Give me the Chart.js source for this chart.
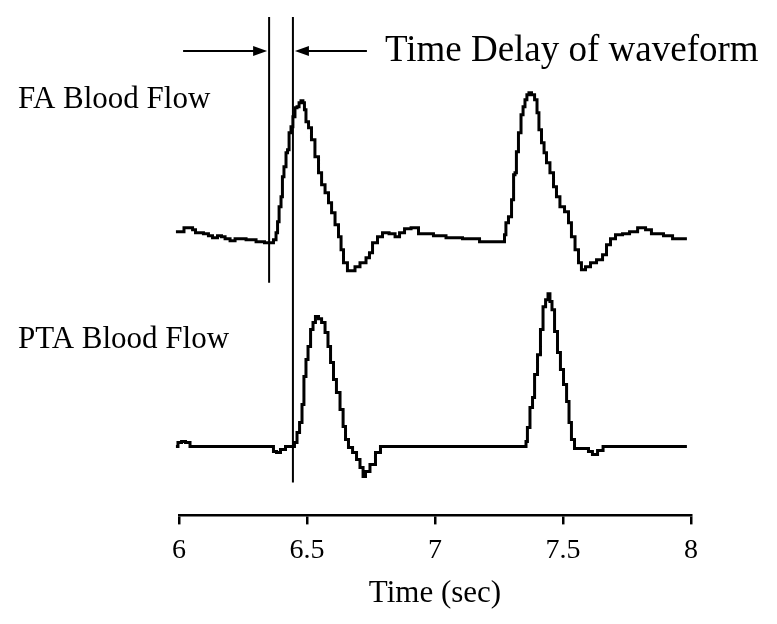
<!DOCTYPE html>
<html>
<head>
<meta charset="utf-8">
<script src="https://cdn.jsdelivr.net/npm/chart.js@4"></script>
<style>
  body { margin: 0; background: #fff; }
  canvas { display: block; }
</style>
</head>
<body>
<canvas id="c" width="777" height="624"></canvas>
<script>
// time (sec) and flow (arbitrary units, baseline = 0)
const faTime = [5.988, 6.016, 6.023, 6.051, 6.055, 6.074, 6.082, 6.109, 6.121, 6.141, 6.160, 6.172, 6.188, 6.211, 6.227, 6.297, 6.305, 6.363, 6.375, 6.383, 6.387, 6.395, 6.402, 6.406, 6.414, 6.422, 6.426, 6.434, 6.441, 6.449, 6.457, 6.465, 6.473, 6.480, 6.488, 6.492, 6.500, 6.512, 6.523, 6.539, 6.551, 6.563, 6.578, 6.590, 6.602, 6.617, 6.629, 6.637, 6.648, 6.668, 6.680, 6.695, 6.719, 6.742, 6.746, 6.766, 6.785, 6.805, 6.836, 6.852, 6.871, 6.891, 6.922, 6.949, 7.039, 7.047, 7.168, 7.180, 7.270, 7.273, 7.281, 7.293, 7.305, 7.309, 7.316, 7.320, 7.332, 7.340, 7.348, 7.355, 7.363, 7.371, 7.383, 7.395, 7.402, 7.410, 7.422, 7.430, 7.441, 7.457, 7.469, 7.480, 7.496, 7.516, 7.527, 7.539, 7.555, 7.566, 7.578, 7.598, 7.617, 7.645, 7.664, 7.676, 7.695, 7.715, 7.750, 7.770, 7.813, 7.832, 7.859, 7.926, 7.930, 7.984];
const faFlow = [0.057, 0.057, 0.086, 0.086, 0.071, 0.050, 0.050, 0.043, 0.029, 0.014, 0.029, 0.021, 0.007, -0.007, 0.007, 0.000, -0.014, -0.021, 0.000, 0.050, 0.129, 0.236, 0.307, 0.450, 0.521, 0.621, 0.643, 0.764, 0.807, 0.879, 0.943, 0.950, 0.979, 0.993, 0.979, 0.929, 0.843, 0.800, 0.714, 0.593, 0.479, 0.393, 0.336, 0.264, 0.193, 0.107, 0.021, -0.071, -0.164, -0.221, -0.221, -0.193, -0.164, -0.129, -0.093, -0.021, 0.021, 0.050, 0.043, 0.021, 0.050, 0.079, 0.086, 0.043, 0.029, 0.014, 0.007, -0.014, -0.014, 0.036, 0.121, 0.164, 0.286, 0.464, 0.479, 0.629, 0.764, 0.893, 0.950, 1.000, 1.036, 1.050, 1.036, 1.000, 0.907, 0.786, 0.693, 0.621, 0.550, 0.479, 0.379, 0.307, 0.236, 0.200, 0.121, 0.021, -0.071, -0.164, -0.214, -0.193, -0.164, -0.143, -0.107, -0.036, 0.007, 0.036, 0.043, 0.057, 0.086, 0.071, 0.043, 0.029, 0.007, 0.007];

const ptaTime = [5.988, 6.004, 6.016, 6.035, 6.051, 6.363, 6.375, 6.387, 6.406, 6.426, 6.445, 6.457, 6.465, 6.477, 6.484, 6.492, 6.500, 6.508, 6.520, 6.527, 6.539, 6.551, 6.563, 6.578, 6.586, 6.598, 6.609, 6.621, 6.637, 6.645, 6.656, 6.668, 6.688, 6.699, 6.715, 6.723, 6.734, 6.758, 6.777, 6.797, 7.352, 7.359, 7.363, 7.379, 7.383, 7.395, 7.406, 7.418, 7.426, 7.438, 7.445, 7.453, 7.461, 7.473, 7.484, 7.496, 7.508, 7.520, 7.527, 7.539, 7.551, 7.594, 7.605, 7.625, 7.645, 7.668, 7.984];
const ptaFlow = [0, 0.027, 0.033, 0.027, 0, 0, -0.033, -0.040, -0.020, 0, 0, 0.027, 0.093, 0.160, 0.280, 0.467, 0.580, 0.667, 0.780, 0.827, 0.867, 0.853, 0.827, 0.760, 0.667, 0.560, 0.447, 0.360, 0.247, 0.133, 0.047, -0.007, -0.040, -0.087, -0.140, -0.200, -0.167, -0.120, -0.040, 0, 0, 0.033, 0.127, 0.260, 0.327, 0.480, 0.613, 0.780, 0.933, 0.980, 1.020, 0.967, 0.913, 0.767, 0.627, 0.513, 0.413, 0.300, 0.160, 0.047, -0.013, -0.013, -0.033, -0.053, -0.027, 0, 0];

const xTicks = [6, 6.5, 7, 7.5, 8];

// delay markers (sec) and their extent in FA units
const delayStart = 6.352;
const delayEnd = 6.445;
const markerTop = 1.593;
const startBottom = -0.307;
const endBottom = -1.736;
const arrowLevel = 1.35;
const arrowTails = [6.016, 6.734];

const pts = (xs, ys) => xs.map((x, i) => ({ x: x, y: ys[i] }));
const serif = '"Liberation Serif", "Times New Roman", serif';

const annotations = {
  id: 'annotations',
  afterDraw(chart) {
    const ctx = chart.ctx;
    const xs = chart.scales.x;
    const ys = chart.scales.yFA;
    const y = ys.getPixelForValue(arrowLevel);
    const a = xs.getPixelForValue(delayStart);
    const b = xs.getPixelForValue(delayEnd);
    const l = xs.getPixelForValue(arrowTails[0]);
    const r = xs.getPixelForValue(arrowTails[1]);
    ctx.save();
    ctx.strokeStyle = '#000';
    ctx.fillStyle = '#000';
    ctx.lineWidth = 2;
    ctx.beginPath();
    ctx.moveTo(l, y); ctx.lineTo(a - 12, y);
    ctx.moveTo(b + 12, y); ctx.lineTo(r, y);
    ctx.stroke();
    ctx.beginPath();
    ctx.moveTo(a - 2, y); ctx.lineTo(a - 16, y - 5); ctx.lineTo(a - 16, y + 5); ctx.closePath();
    ctx.moveTo(b + 2, y); ctx.lineTo(b + 16, y - 5); ctx.lineTo(b + 16, y + 5); ctx.closePath();
    ctx.fill();

    ctx.font = '37px ' + serif;
    ctx.textBaseline = 'middle';
    ctx.fillText('Time Delay of waveform', r + 18, y);

    ctx.font = '31px ' + serif;
    ctx.textBaseline = 'alphabetic';
    ctx.fillText('FA Blood Flow', 18, 108);
    ctx.fillText('PTA Blood Flow', 18, 348);
    ctx.restore();
  }
};

new Chart(document.getElementById('c'), {
  type: 'line',
  data: {
    datasets: [
      { label: 'FA Blood Flow', data: pts(faTime, faFlow), yAxisID: 'yFA', borderWidth: 3, stepped: 'middle' },
      { label: 'PTA Blood Flow', data: pts(ptaTime, ptaFlow), yAxisID: 'yPTA', borderWidth: 3, stepped: 'middle' },
      { label: 'start', data: [{ x: delayStart, y: markerTop }, { x: delayStart, y: startBottom }], yAxisID: 'yFA', borderWidth: 2 },
      { label: 'end', data: [{ x: delayEnd, y: markerTop }, { x: delayEnd, y: endBottom }], yAxisID: 'yFA', borderWidth: 2 }
    ].map(d => Object.assign(d, {
      borderColor: '#000',
      pointRadius: 0,
      tension: 0,
      fill: false,
      clip: false,
      borderJoinStyle: 'miter'
    }))
  },
  options: {
    responsive: false,
    devicePixelRatio: 1,
    animation: false,
    layout: { padding: { left: 179, right: 86, top: 0, bottom: 15 } },
    plugins: { legend: { display: false }, tooltip: { enabled: false } },
    scales: {
      x: {
        type: 'linear',
        min: 6,
        max: 8,
        afterBuildTicks: s => { s.ticks = xTicks.map(v => ({ value: v })); },
        ticks: { color: '#000', font: { family: serif, size: 28 }, padding: 9, maxRotation: 0, callback: v => String(v) },
        grid: { drawOnChartArea: false, drawTicks: true, tickLength: 9, color: '#000', lineWidth: 2.5 },
        border: { display: true, color: '#000', width: 2.5 },
        title: { display: true, text: 'Time (sec)', color: '#000', font: { family: serif, size: 31, lineHeight: 1 }, padding: { top: 2, bottom: 0 } }
      },
      yFA: { display: false, min: -1.971, max: 1.714 },
      yPTA: { display: false, min: -0.46, max: 2.98 }
    }
  },
  plugins: [annotations]
});
</script>
</body>
</html>
